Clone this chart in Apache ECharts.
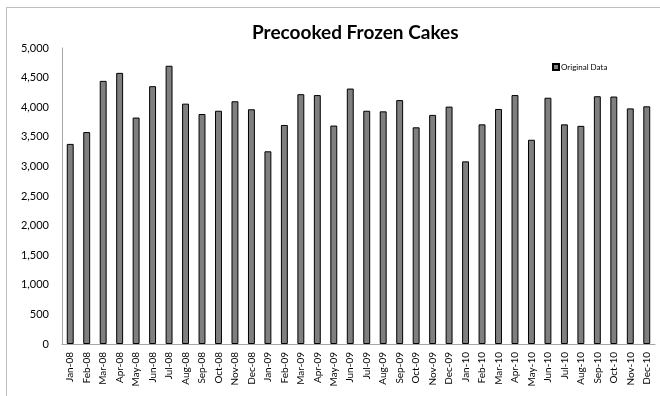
<!DOCTYPE html>
<html><head><meta charset="utf-8">
<script src="https://cdn.jsdelivr.net/npm/echarts@6/dist/echarts.min.js"></script>
<style>html,body{margin:0;padding:0;background:#fff}#c{width:660px;height:396px}</style>
</head><body><div id="c"></div>
<script>
var categories = ["Jan-08","Feb-08","Mar-08","Apr-08","May-08","Jun-08","Jul-08","Aug-08","Sep-08","Oct-08","Nov-08","Dec-08",
"Jan-09","Feb-09","Mar-09","Apr-09","May-09","Jun-09","Jul-09","Aug-09","Sep-09","Oct-09","Nov-09","Dec-09",
"Jan-10","Feb-10","Mar-10","Apr-10","May-10","Jun-10","Jul-10","Aug-10","Sep-10","Oct-10","Nov-10","Dec-10"];
var originalData = [3380,3580,4445,4580,3825,4355,4700,4060,3885,3940,4100,3965,
3255,3700,4220,4205,3690,4315,3940,3930,4120,3660,3870,4010,
3085,3710,3970,4205,3450,4160,3710,3685,4185,4180,3980,4015];
var seriesName = "Original Data";
var chart = echarts.init(document.getElementById('c'));
chart.setOption({
  animation:false,
  backgroundColor:'#ffffff',
  title:{text:'Precooked Frozen Cakes',left:247,top:18,
    textStyle:{fontFamily:'Lato',fontWeight:'bold',fontSize:19,color:'#000'}},
  legend:{data:[seriesName],left:547,top:58,itemWidth:6,itemHeight:6,itemGap:2,
    textStyle:{fontFamily:'Lato',fontSize:8,color:'#000',padding:[0,0,0,-3]},
    icon:'rect'},
  grid:{left:62,right:5,top:48,bottom:52,containLabel:false},
  xAxis:{type:'category',data:categories,
    axisLine:{lineStyle:{color:'#a6a6a6',width:1}},
    axisTick:{show:false},
    axisLabel:{rotate:90,interval:0,fontFamily:'Lato',fontSize:10,color:'#000',margin:8}},
  yAxis:{type:'value',min:0,max:5000,interval:500,
    axisLine:{show:true,lineStyle:{color:'#a6a6a6'}},
    axisTick:{show:false},
    splitLine:{show:false},
    axisLabel:{fontFamily:'Lato',fontSize:11,color:'#000',margin:13,
      formatter:function(v){return v.toLocaleString('en-US');}}},
  series:[{name:seriesName,type:'bar',data:originalData,barWidth:'42%',
    itemStyle:{color:'#7f7f7f',borderColor:'#000',borderWidth:1}}],
  graphic:[
    {type:'line',shape:{x1:6,y1:7.5,x2:660,y2:7.5},style:{stroke:'#bfbfbf',lineWidth:1}},
    {type:'line',shape:{x1:6.5,y1:7,x2:6.5,y2:396},style:{stroke:'#bfbfbf',lineWidth:1}}
  ]
});
</script></body></html>
